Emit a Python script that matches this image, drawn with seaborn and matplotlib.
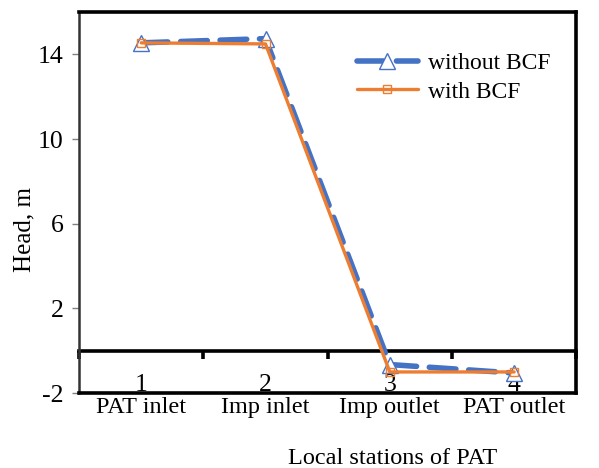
import matplotlib
matplotlib.use("Agg")
import matplotlib.pyplot as plt
import seaborn as sns
import pandas as pd
from matplotlib.ticker import FixedLocator, NullFormatter

stations = ["PAT inlet", "Imp inlet", "Imp outlet", "PAT outlet"]
station_numbers = ["1", "2", "3", "4"]
without_bcf = [14.55, 14.75, -0.65, -1.05]
with_bcf = [14.55, 14.5, -1.0, -1.0]
yticks = [-2, 2, 6, 10, 14]

sns.set_theme(style="white")
plt.rcParams["font.family"] = ["Liberation Serif", "DejaVu Serif"]
plt.rcParams["text.color"] = "black"
plt.rcParams["axes.labelcolor"] = "black"
plt.rcParams["xtick.color"] = "black"
plt.rcParams["ytick.color"] = "black"

fig = plt.figure(figsize=(5.99, 4.68), dpi=100)
ax = fig.add_axes([0.132, 0.160, 0.830, 0.814])

df1 = pd.DataFrame({"station": stations, "head": without_bcf})
df2 = pd.DataFrame({"station": stations, "head": with_bcf})

sns.lineplot(data=df1, x="station", y="head", ax=ax, color="#4472C4",
             linewidth=4.0, marker="^", markersize=11, markerfacecolor="white",
             markeredgecolor="#4472C4", markeredgewidth=1.0,
             label="without BCF", sort=False)
ax.lines[-1].set_dashes([4.8, 2.3])
ax.lines[-1].set_dash_capstyle("round")
sns.lineplot(data=df2, x="station", y="head", ax=ax, color="#ED7D31",
             linewidth=2.4, marker="s", markersize=6, markerfacecolor="none",
             markeredgecolor="#ED7D31", markeredgewidth=1.0,
             label="with BCF", sort=False)

ax.set_xlim(-0.5, len(stations) - 0.5)
ax.set_ylim(-2, 16)
ax.set_yticks(yticks)
ax.set_yticklabels([str(v) for v in yticks], fontsize=18.5, color="black")
ax.tick_params(axis="y", which="major", direction="out", length=5, width=1,
               color="#808080", pad=6, left=True)

ax.set_xticks(range(len(stations)))
ax.set_xticklabels(stations, fontsize=17.5, color="black")
ax.tick_params(axis="x", length=0, pad=3)

for side in ["top", "right", "bottom"]:
    ax.spines[side].set_color("black")
    ax.spines[side].set_linewidth(2.6)
ax.spines["left"].set_color("#333333")
ax.spines["left"].set_linewidth(1.8)

# zero axis line with category ticks and station numbers
sec = ax.secondary_xaxis(2 / 18)
sec.spines["bottom"].set_linewidth(2.6)
sec.spines["bottom"].set_color("black")
sec.set_xticks(range(len(stations)))
sec.set_xticklabels(station_numbers, fontsize=18.5, color="black")
sec.tick_params(axis="x", which="major", length=0, pad=17)
sec.xaxis.set_minor_locator(FixedLocator([i - 0.5 for i in range(len(stations) + 1)]))
sec.xaxis.set_minor_formatter(NullFormatter())
sec.tick_params(axis="x", which="minor", length=6, width=2.6, color="black", direction="out")

ax.set_ylabel("Head, m", fontsize=18, color="black")
ax.yaxis.set_label_coords(-0.087, 0.43)
ax.set_xlabel("Local stations of PAT", fontsize=17.5, color="black")
ax.xaxis.set_label_coords(0.63, -0.145)

leg = ax.legend(loc="upper right", bbox_to_anchor=(0.99, 0.95), frameon=False,
                fontsize=17, handlelength=2.6, handletextpad=0.4, labelspacing=0.3)
for t in leg.get_texts():
    t.set_color("black")

fig.savefig("out.png", dpi=100)
